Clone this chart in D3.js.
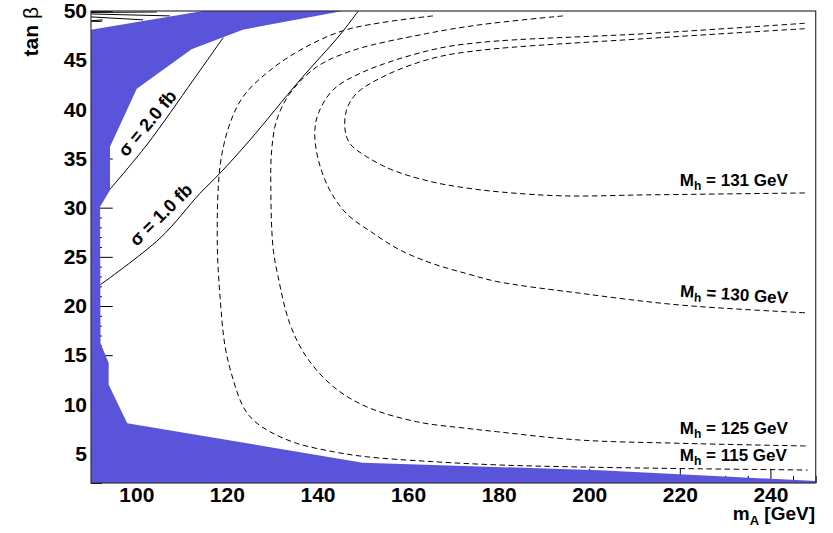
<!DOCTYPE html>
<html>
<head>
<meta charset="utf-8">
<script src="https://cdn.jsdelivr.net/npm/d3@7"></script>
<style>
  body { margin: 0; background: #fff; }
  svg { display: block; }
  text { font-family: "Liberation Sans", Arial, Helvetica, sans-serif; font-weight: bold; fill: #000; }
</style>
</head>
<body>
<svg id="chart" width="833" height="533"></svg>
<script>
// Axis ranges and tick labels
const xDomain = [90, 250];
const yDomain = [2, 50];
const xMajorTicks = [100, 120, 140, 160, 180, 200, 220, 240];
const yMajorTicks = [5, 10, 15, 20, 25, 30, 35, 40, 45, 50];

// Excluded region (filled), as (m_A, tan beta) vertices
const excludedRegion = [
  [90, 48.1], [114.7, 50], [145.6, 50], [123.5, 48.1], [112.2, 46.1],
  [100.1, 42.1], [94.2, 36.2], [94.2, 31.8], [92.0, 30.1], [92.1, 16.2],
  [93.9, 14.2], [93.9, 12.0], [98.0, 8.07], [150.0, 4.06], [202.3, 3.3],
  [250, 2.2], [250, 2], [90, 2]
];

// Cross-section contours (solid)
const sigma2fb = [[94.04, 31.8], [102.29, 36.37], [112.58, 42.98], [119.2, 47.3]];
const sigma1fb = [[91.99, 22.14], [105.23, 26.89], [114.06, 31.46], [118.47, 33.5],
  [125.09, 36.88], [136.13, 42.98], [144.95, 47.56], [149.0, 50.0]];
// Higher cross-section contours squeezed into the top-left corner
const sigmaTopA = [[90.0, 49.85], [104.5, 49.9]];
const sigmaTopB = [[90.0, 49.7], [107.4, 49.5]];
const sigmaTopC = [[90.0, 49.4], [101.5, 49.1]];
const sigmaTopD = [[90.0, 49.0], [92.6, 49.1]];

// Light Higgs mass contours (dashed)
const mh115 = [[165.5, 49.5], [146.4, 48.1], [136.1, 46.0], [128.8, 43.7], [123.6, 41.3],
  [120.7, 38.6], [118.8, 35.2], [118.1, 32.1], [117.9, 25.9], [118.5, 20.9], [119.6, 15.9],
  [121.4, 12.5], [123.6, 9.76], [125.8, 8.41], [129.5, 7.22], [135.4, 6.04], [143.5, 5.18],
  [150.8, 4.67], [165.5, 4.17], [180.3, 3.83], [197.9, 3.63], [220.0, 3.47], [248.2, 3.32]];
const mh125 = [[194.2, 49.5], [175.9, 48.6], [164.1, 47.7], [147.9, 46.0], [139.8, 44.3],
  [133.9, 41.6], [131.0, 38.9], [129.9, 35.9], [129.7, 32.1], [130.2, 25.9], [131.3, 23.0],
  [133.9, 18.2], [137.6, 14.8], [143.5, 11.8], [150.8, 9.76], [161.9, 8.23], [172.9, 7.56],
  [179.5, 7.22], [197.9, 6.37], [220.0, 6.04], [248.2, 5.76]];
const mh130 = [[247.6, 48.75], [212.6, 47.7], [175.9, 46.8], [164.8, 46.0], [150.1, 43.8],
  [143.5, 42.0], [140.2, 39.6], [139.4, 37.6], [140.2, 34.85], [142.7, 31.8], [146.4, 29.4],
  [152.3, 27.4], [158.2, 25.7], [165.5, 24.3], [172.9, 23.3], [179.5, 22.5], [197.9, 21.3],
  [220.0, 20.1], [248.2, 19.3]];
const mh131 = [[247.6, 48.2], [212.6, 47.2], [175.9, 46.0], [165.5, 45.2], [155.3, 43.5],
  [148.6, 41.6], [146.4, 39.9], [146.1, 37.9], [147.2, 36.5], [150.8, 35.2], [156.7, 33.8],
  [165.5, 32.6], [172.9, 32.0], [180.3, 31.6], [194.2, 31.2], [212.6, 31.3], [248.2, 31.5]];

const svg = d3.select("#chart");
const margin = { left: 91, right: 833 - 815.7, top: 11, bottom: 533 - 483 };
const W = 833, H = 533;

const x = d3.scaleLinear().domain(xDomain).range([margin.left, W - margin.right]);
const y = d3.scaleLinear().domain(yDomain).range([H - margin.bottom, margin.top]);

const plotW = x.range()[1] - x.range()[0];
const plotH = y.range()[0] - y.range()[1];

// Minor ticks (every 5 GeV on x, every unit on y), drawn inside the frame
const xMinor = d3.range(90, 251, 5).filter(v => !xMajorTicks.includes(v));
const yMinor = d3.range(2, 51, 1).filter(v => !yMajorTicks.includes(v));

svg.append("g").attr("transform", `translate(0,${y(2)})`)
  .call(d3.axisBottom(x).tickValues(xMinor).tickSize(-plotH * 0.015).tickFormat(""))
  .call(g => g.select(".domain").remove())
  .call(g => g.selectAll("line").attr("stroke", "#000"));
svg.append("g").attr("transform", `translate(${x(90)},0)`)
  .call(d3.axisLeft(y).tickValues(yMinor).tickSize(-plotW * 0.015).tickFormat(""))
  .call(g => g.select(".domain").remove())
  .call(g => g.selectAll("line").attr("stroke", "#000"));

const xAxis = svg.append("g").attr("transform", `translate(0,${y(2)})`)
  .call(d3.axisBottom(x).tickValues(xMajorTicks).tickSize(-plotH * 0.03).tickPadding(4))
  .call(g => g.select(".domain").remove());
xAxis.selectAll("line").attr("stroke", "#000");
xAxis.selectAll("text").attr("font-size", 21).attr("font-weight", "bold")
  .attr("font-family", "Liberation Sans, Arial, sans-serif").attr("fill", "#000");

const yAxis = svg.append("g").attr("transform", `translate(${x(90)},0)`)
  .call(d3.axisLeft(y).tickValues(yMajorTicks).tickSize(-plotW * 0.03).tickPadding(4))
  .call(g => g.select(".domain").remove());
yAxis.selectAll("line").attr("stroke", "#000");
yAxis.selectAll("text").attr("font-size", 21).attr("font-weight", "bold")
  .attr("font-family", "Liberation Sans, Arial, sans-serif").attr("fill", "#000");

const line = d3.line().x(d => x(d[0])).y(d => y(d[1])).curve(d3.curveCatmullRom.alpha(0.5));
const straight = d3.line().x(d => x(d[0])).y(d => y(d[1]));

const plot = svg.append("g");
plot.append("clipPath").attr("id", "frameClip")
  .append("rect").attr("x", x(90)).attr("y", y(50)).attr("width", plotW).attr("height", plotH);
const inner = plot.append("g").attr("clip-path", "url(#frameClip)");

// Solid cross-section contours
[sigma2fb, sigma1fb].forEach(s => {
  inner.append("path").attr("d", line(s)).attr("fill", "none")
    .attr("stroke", "#000").attr("stroke-width", 1);
});
[sigmaTopA, sigmaTopB, sigmaTopC, sigmaTopD].forEach(s => {
  inner.append("path").attr("d", straight(s)).attr("fill", "none")
    .attr("stroke", "#000").attr("stroke-width", 1);
});

// Excluded region
inner.append("path").attr("d", straight(excludedRegion) + "Z")
  .attr("fill", "rgb(89,84,217)").attr("stroke", "none");

// Dashed Higgs-mass contours
[mh115, mh125, mh130, mh131].forEach(s => {
  inner.append("path").attr("d", line(s)).attr("fill", "none")
    .attr("stroke", "#000").attr("stroke-width", 1).attr("stroke-dasharray", "5.5,3.5");
});

// Frame
svg.append("rect").attr("x", x(90)).attr("y", y(50)).attr("width", plotW).attr("height", plotH)
  .attr("fill", "none").attr("stroke", "#333").attr("stroke-width", 1.2);

// Contour labels
function mhLabel(mx, ty, mass, angle) {
  const t = svg.append("text")
    .attr("transform", `translate(${x(mx)},${y(ty)}) rotate(${angle})`)
    .attr("font-size", 17);
  t.append("tspan").text("M");
  t.append("tspan").attr("font-size", 12).attr("dy", 4).text("h");
  t.append("tspan").attr("dy", -4).text(` = ${mass} GeV`);
}
mhLabel(220.0, 32.2, 131, 0);
mhLabel(220.0, 20.95, 130, 3.8);
mhLabel(220.0, 6.95, 125, 0);
mhLabel(220.0, 4.24, 115, 0);

function sigmaLabel(cx, cy, value, angle) {
  svg.append("text")
    .attr("transform", `translate(${x(cx)},${y(cy)}) rotate(${angle})`)
    .attr("text-anchor", "middle").attr("dy", "0.35em")
    .attr("font-size", 18)
    .text(`σ = ${value} fb`);
}
sigmaLabel(102.4, 38.6, "2.0", -50);
sigmaLabel(105.4, 29.3, "1.0", -44.5);

// Axis titles
const yt = svg.append("text")
  .attr("transform", `translate(38,7) rotate(-90)`)
  .attr("text-anchor", "end").attr("font-size", 21);
yt.append("tspan").text("tan ");
yt.append("tspan").attr("font-weight", "normal").text("β");

const xt = svg.append("text")
  .attr("x", 815).attr("y", 520).attr("text-anchor", "end").attr("font-size", 19);
xt.append("tspan").text("m");
xt.append("tspan").attr("font-size", 13).attr("dy", 5).text("A");
xt.append("tspan").attr("dy", -5).text(" [GeV]");
</script>
</body>
</html>
